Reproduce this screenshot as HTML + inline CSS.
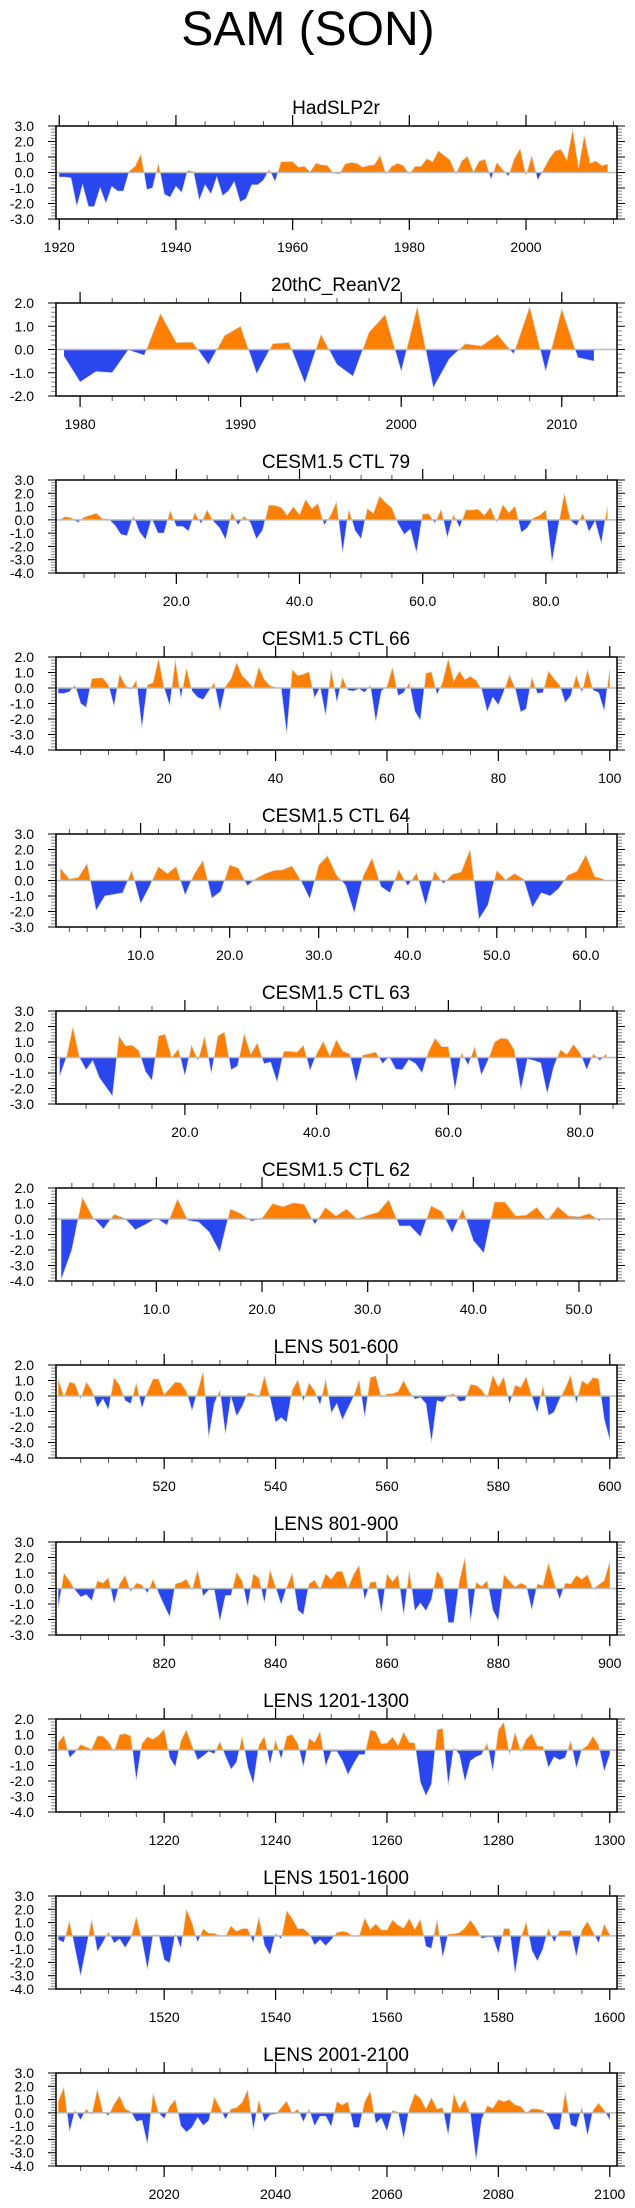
<!DOCTYPE html>
<html><head><meta charset="utf-8"><style>
html,body{margin:0;padding:0;background:#fff;}
svg{display:block;font-family:"Liberation Sans",Arial,sans-serif;}
</style></head><body>
<svg id="chart" width="635" height="2208" viewBox="0 0 635 2208" xmlns="http://www.w3.org/2000/svg">
<text x="308" y="45" font-size="48" text-anchor="middle" fill="#000">SAM (SON)</text>
</svg>
<script>
// ---------- data ----------
const titles = ["HadSLP2r","20thC_ReanV2","CESM1.5 CTL 79","CESM1.5 CTL 66","CESM1.5 CTL 64","CESM1.5 CTL 63","CESM1.5 CTL 62","LENS 501-600","LENS 801-900","LENS 1201-1300","LENS 1501-1600","LENS 2001-2100"];
const starts = [1920,1979,1,1,1,1,1,501,801,1201,1501,2001];
const hadslpValues = [-0.3,-0.3,-0.35,-2.2,-0.8,-2.2,-2.2,-1.0,-2.0,-0.9,-1.2,-1.2,0.1,0.4,1.2,-1.1,-1.0,0.6,-1.4,-1.6,-0.9,-1.3,0.15,0.05,-1.8,-0.8,-1.4,-0.3,-1.5,-1.2,-0.6,-1.9,-1.7,-0.8,-0.8,-0.5,0.2,-0.6,0.7,0.7,0.7,0.35,0.4,0.05,0.6,0.5,0.45,-0.05,-0.1,0.55,0.65,0.6,0.35,0.45,0.5,1.1,-0.1,0.4,0.6,0.45,-0.1,0.4,0.4,0.9,0.7,1.4,1.1,0.8,-0.1,0.75,1.05,0.05,0.75,0.85,-0.45,0.65,0.2,-0.25,0.9,1.55,-0.2,1.1,-0.5,0.2,0.9,1.4,1.5,0.8,2.8,0.3,2.4,0.6,0.75,0.45,0.55];
const reanValues = [-0.3,-1.4,-0.95,-1.0,-0.02,-0.25,1.55,0.3,0.32,-0.65,0.6,1.0,-1.05,0.25,0.3,-1.45,0.65,-0.65,-1.15,0.75,1.5,-0.95,1.85,-1.65,-0.4,0.25,0.15,0.65,-0.2,1.85,-0.95,1.75,-0.35,-0.5];
const ctl79Values = [0.0,0.25,0.15,-0.2,0.2,0.35,0.5,0.1,0.05,-0.4,-1.1,-1.2,0.3,-0.9,-1.5,0.1,-1.0,-1.0,0.7,-0.5,-0.5,-0.85,0.55,-0.3,0.75,-0.1,-0.6,-1.5,0.6,-0.4,0.3,-0.2,-1.45,-0.8,1.1,1.1,0.95,0.35,1.0,0.4,1.55,0.85,1.25,-0.4,0.3,1.35,-2.5,0.8,-0.8,-1.45,0.85,0.5,1.8,1.3,0.9,-0.3,-1.1,-0.7,-2.5,0.45,0.45,-0.25,0.8,-1.35,0.4,-0.6,0.75,0.75,0.8,0.35,0.95,-0.2,1.15,0.55,1.05,-0.95,-0.6,0.15,0.35,0.75,-3.2,-0.5,2.0,-0.05,-0.45,0.5,-0.9,-0.1,-1.8,1.05];
const ctl66Values = [-0.35,-0.35,-0.25,0.2,-1.0,-1.25,0.6,0.65,0.65,0.2,-1.2,0.9,0.2,-0.1,0.5,-2.6,0.2,0.35,1.9,0.0,-1.15,1.85,-0.7,1.3,-0.2,-0.6,-0.75,-0.2,0.35,-1.5,0.1,0.6,1.65,0.8,0.45,0.0,1.35,0.55,0.15,0.05,0.0,-3.0,1.2,0.8,0.9,1.05,-0.65,0.05,-1.8,1.2,-0.95,0.7,-0.15,-0.2,-0.05,-0.3,0.2,-2.2,-0.2,0.1,1.35,-0.5,-0.3,0.35,-1.5,-2.1,0.95,1.05,-0.45,0.4,1.9,0.45,1.1,0.55,0.75,0.5,-0.1,-1.55,-0.6,-1.1,-0.2,0.85,0.0,-1.55,-1.35,0.7,-0.35,-0.3,1.1,0.6,0.2,-0.95,-0.5,0.85,-0.3,1.2,-0.15,-0.3,-1.5,1.25];
const ctl64Values = [0.8,0.1,0.2,1.1,-1.95,-1.0,-0.9,-0.8,0.65,-1.5,-0.4,0.9,0.45,0.9,-0.95,0.4,1.3,-1.15,-0.7,1.0,0.8,-0.35,0.15,0.45,0.65,0.7,0.95,0.0,-1.2,1.0,1.6,0.35,-0.3,-2.1,0.3,1.45,-0.4,-0.8,0.7,-0.35,0.5,-1.6,0.6,-0.2,0.4,0.55,2.0,-2.5,-1.6,0.65,0.05,0.45,0.1,-1.75,-0.8,-1.0,-0.5,0.35,0.6,1.65,0.25,0.1];
const ctl63Values = [-1.2,0.0,2.0,0.0,-0.8,-0.2,-1.3,-1.9,-2.5,1.4,0.75,0.8,0.45,-0.9,-1.5,1.4,1.5,0.0,0.55,-1.2,0.8,-0.2,1.4,-1.05,1.4,1.65,-0.8,-0.55,1.55,0.2,0.95,-0.4,-0.3,-1.6,0.4,0.4,0.35,0.8,-0.85,0.25,1.05,0.1,1.15,0.4,0.25,-1.6,0.15,0.25,0.35,-0.4,0.05,-0.75,-0.8,-0.15,-0.4,-1.0,0.4,1.25,0.7,0.7,-2.1,0.3,-0.5,0.7,-1.15,-0.2,1.0,1.25,1.2,0.5,-2.1,-0.1,-0.2,-0.35,-2.35,-0.6,0.5,0.2,0.85,0.3,-0.8,0.25,-0.2,0.25];
const ctl62Values = [-3.9,-2.0,1.4,0.1,-0.65,0.3,0.05,-0.7,-0.35,0.05,-0.4,1.3,-0.1,-0.2,-0.85,-2.15,0.65,0.35,-0.15,0.05,1.0,0.8,1.05,0.95,-0.35,0.75,0.2,0.65,0.0,0.25,0.45,1.25,-0.45,-0.45,-1.15,0.85,0.5,-0.9,0.65,-1.4,-2.2,1.1,1.1,0.2,0.25,0.75,-0.1,0.8,0.2,0.15,0.35,-0.15];
const lens501Values = [1.1,-0.05,0.9,0.8,-0.2,0.9,0.4,-0.75,-0.2,-0.9,1.2,0.7,-0.3,-0.5,0.85,-0.8,0.3,1.1,1.1,0.1,0.5,0.9,0.85,0.3,-0.95,0.3,1.6,-2.7,-0.5,0.4,-2.5,-0.05,-1.3,-0.7,0.2,0.15,-0.1,1.3,-0.1,-1.7,-1.4,-1.7,0.4,1.05,-0.35,0.85,0.35,-0.6,1.1,-1.1,-0.5,-1.55,-0.8,-0.05,1.05,-1.4,1.2,1.3,-0.1,0.15,0.15,0.3,1.0,0.3,-0.2,-0.1,-0.5,-3.0,-0.3,-0.4,0.05,0.15,-0.35,-0.3,0.75,0.7,0.4,-0.1,1.35,0.6,1.25,-0.55,0.7,0.55,1.25,0.0,-1.1,0.7,-1.25,-1.05,-0.2,0.5,1.35,-0.5,1.0,0.75,1.2,1.1,-1.5,-2.85];
const lens801Values = [-1.25,1.0,0.5,-0.1,-0.55,-0.4,-0.8,0.5,0.35,0.7,-1.0,0.3,0.85,-0.2,0.35,0.25,-0.3,0.6,-0.3,-1.1,-1.85,0.3,0.4,0.6,-0.1,1.2,-0.5,-0.1,-0.1,-2.15,-0.45,-0.45,1.05,0.5,-1.2,0.95,0.7,-0.95,1.2,0.1,-1.05,0.1,1.0,-1.4,-1.7,0.3,0.55,-0.05,0.95,0.6,1.1,1.1,0.05,0.9,1.5,-0.75,0.4,0.45,-1.6,0.95,0.45,0.9,-1.75,1.2,-1.45,-0.95,-1.45,-0.7,1.15,0.6,-2.2,-2.2,0.5,2.0,-2.2,0.4,0.15,0.5,-1.4,-2.1,0.9,0.5,0.1,0.35,0.2,-1.4,0.3,0.2,1.65,0.4,-0.7,0.35,0.3,0.85,0.6,0.9,-0.05,0.25,0.5,1.75];
const lens1201Values = [0.5,0.95,-0.5,-0.15,0.35,0.2,0.05,0.9,0.9,0.55,-0.1,1.0,1.05,0.9,-2.0,0.4,0.85,0.7,0.95,1.35,-0.5,-1.1,0.6,1.3,0.3,-0.65,-0.4,-0.1,-0.25,0.55,-0.4,-1.25,-0.8,0.9,-1.1,-2.2,0.3,0.9,-0.95,0.65,-0.6,0.9,1.0,0.4,-1.1,0.75,0.5,1.2,-1.05,-0.1,-0.1,-0.7,-1.6,-0.9,-0.3,-0.3,1.3,1.2,0.4,0.45,0.85,0.3,1.15,0.5,0.45,-2.1,-2.95,-2.2,1.3,1.4,-2.3,0.15,-0.3,-2.05,-0.7,-0.45,-0.3,0.45,-1.4,1.3,1.8,-0.3,1.15,-0.1,0.7,1.05,0.25,0.25,-1.15,-0.45,-0.65,-0.5,0.6,-1.2,0.05,0.3,0.9,0.3,-1.4,-0.3];
const lens1501Values = [-0.3,-0.5,1.15,-1.0,-3.05,-0.9,1.25,-1.2,-0.5,0.3,-0.55,-0.25,-0.9,-0.2,1.45,-0.3,-2.55,0.05,0.1,-1.8,-2.05,0.2,-0.95,2.0,1.0,-0.5,0.55,0.2,0.2,0.0,-0.05,0.75,0.35,0.55,0.55,-0.55,1.45,-0.7,-1.45,0.2,-0.25,1.9,1.3,0.55,0.55,0.2,-0.7,-0.3,-0.75,-0.3,0.25,0.35,0.25,-0.05,-0.05,1.35,0.5,0.9,0.45,0.45,1.2,0.8,0.6,1.3,0.5,1.25,-0.8,-0.95,1.25,-1.65,0.15,0.15,0.25,0.6,1.2,0.6,-0.2,-0.1,-0.1,-1.35,0.55,0.55,-2.9,-0.2,1.05,-1.1,-1.9,-1.0,0.6,-0.5,0.4,0.4,0.4,-1.6,0.45,1.1,0.3,-0.55,0.9,0.1];
const lens2001Values = [0.9,1.95,-1.45,0.2,-0.55,0.3,-0.15,1.8,0.05,-0.2,0.65,1.3,0.3,0.1,-0.65,-0.55,-2.4,1.5,0.0,-0.45,0.5,1.0,-1.0,-1.45,-1.1,-0.35,-0.95,-0.6,1.2,0.4,-0.5,0.3,0.4,0.8,1.75,-1.3,1.0,-0.7,-0.15,-0.1,0.4,0.9,-0.05,0.3,-0.7,0.3,-1.0,-0.25,-0.25,-1.05,0.85,0.6,0.85,-1.1,-1.1,0.85,1.65,-0.8,-0.4,-1.4,0.2,0.05,-1.95,0.3,1.45,1.1,0.3,1.15,0.3,0.4,-1.7,1.45,0.35,1.0,-0.15,-3.6,-0.5,0.55,0.35,1.0,0.85,1.0,0.6,0.5,0.0,0.3,0.3,0.2,-0.3,-1.25,-1.25,1.6,-0.9,-1.1,0.45,-1.75,0.2,0.75,0.2,-0.55];
const yMaxes = [3,2,3,2,3,3,2,2,3,2,3,3];
const yMins = [-3,-2,-4,-4,-3,-3,-4,-4,-3,-4,-4,-4];
const majorTicks = [
  [1920,1940,1960,1980,2000],[1980,1990,2000,2010],[20,40,60,80],[20,40,60,80,100],
  [10,20,30,40,50,60],[20,40,60,80],[10,20,30,40,50],[520,540,560,580,600],
  [820,840,860,880,900],[1220,1240,1260,1280,1300],[1520,1540,1560,1580,1600],[2020,2040,2060,2080,2100]];
const tickLabels = [
  ["1920","1940","1960","1980","2000"],["1980","1990","2000","2010"],["20.0","40.0","60.0","80.0"],["20","40","60","80","100"],
  ["10.0","20.0","30.0","40.0","50.0","60.0"],["20.0","40.0","60.0","80.0"],["10.0","20.0","30.0","40.0","50.0"],["520","540","560","580","600"],
  ["820","840","860","880","900"],["1220","1240","1260","1280","1300"],["1520","1540","1560","1580","1600"],["2020","2040","2060","2080","2100"]];
const allValues = [hadslpValues,reanValues,ctl79Values,ctl66Values,ctl64Values,ctl63Values,ctl62Values,lens501Values,lens801Values,lens1201Values,lens1501Values,lens2001Values];

// ---------- layout (not data) ----------
const xMins = [1919.44,1978.5,0.46,0.58,0.5,0.43,0.5,500.58,800.58,1200.58,1500.58,2000.58];
const xMaxes = [2015.6,2013.44,91.55,101.3,63.5,85.6,53.6,601.3,901.3,1301.3,1601.3,2101.3];
const minorSteps = [5,2,5,5,2,5,2,5,5,5,5,5];
const NS = "http://www.w3.org/2000/svg";
const svg = document.getElementById("chart");
const L = 56, R = 617, H = 93;
function mk(tag, attrs, parent){ const e=document.createElementNS(NS,tag); for(const k in attrs) e.setAttribute(k,attrs[k]); parent.appendChild(e); return e; }

for (let k=0;k<12;k++){
  const top = 126 + 177*k, bottom = top + H;
  const xmin=xMins[k], xmax=xMaxes[k], ymax=yMaxes[k], ymin=yMins[k];
  const sx = v => L + (v-xmin)/(xmax-xmin)*(R-L);
  const sy = v => top + (ymax-v)/(ymax-ymin)*H;
  const g = mk("g",{},svg);
  
  

  const t = mk("text",{x:336,y:top-12,"font-size":19,"text-anchor":"middle",fill:"#000"},g);
  t.textContent = titles[k];
  
  

  // clip paths
  const y0 = sy(0);
  const defs = mk("defs",{},g);
  const cA = mk("clipPath",{id:"ca"+k},defs); mk("rect",{x:L,y:top,width:R-L,height:y0-top},cA);
  const cB = mk("clipPath",{id:"cb"+k},defs); mk("rect",{x:L,y:y0,width:R-L,height:bottom-y0},cB);

  const vals = allValues[k];
  const pts = vals.map((v,i)=>[sx(starts[k]+i), sy(v)]);
  let d = "M"+pts[0][0].toFixed(2)+","+y0.toFixed(2);
  pts.forEach(p=>{ d += " L"+p[0].toFixed(2)+","+p[1].toFixed(2); });
  d += " L"+pts[pts.length-1][0].toFixed(2)+","+y0.toFixed(2)+" Z";
  const above = mk("path",{d:d,fill:"#ff8000","clip-path":"url(#ca"+k+")"},g);
  
  
  const below = mk("path",{d:d,fill:"#2a46ee","clip-path":"url(#cb"+k+")"},g);
  
  
  const line = mk("polyline",{points:pts.map(p=>p[0].toFixed(2)+","+p[1].toFixed(2)).join(" "),fill:"none",stroke:"#d8d8d8","stroke-width":0.7},g);
  
  

  const zl = mk("line",{x1:L,x2:R,y1:y0,y2:y0,stroke:"#bbbbbb","stroke-width":1.5},g);
  
  

  // y ticks
  for (let v=ymax; v>=ymin-1e-9; v-=1){
    const y=sy(v);
    mk("line",{x1:L-8,x2:L,y1:y,y2:y,stroke:"#000","stroke-width":1},g);
    mk("line",{x1:R,x2:R+8,y1:y,y2:y,stroke:"#000","stroke-width":1},g);
    const lab = mk("text",{x:34,y:y+5,"font-size":14,"text-anchor":"end",fill:"#000"},g);
    lab.textContent = v.toFixed(1);
    
    
    if (v>ymin){
      for (let m=1;m<5;m++){
        const ym = sy(v-m*0.2);
        mk("line",{x1:L-5,x2:L,y1:ym,y2:ym,stroke:"#888","stroke-width":1},g);
        mk("line",{x1:R,x2:R+5,y1:ym,y2:ym,stroke:"#888","stroke-width":1},g);
      }
    }
  }
  // x minor ticks
  const step = minorSteps[k];
  for (let v=Math.ceil(xmin/step)*step; v<=xmax; v+=step){
    const x=sx(v);
    mk("line",{x1:x,x2:x,y1:bottom,y2:bottom+5,stroke:"#555","stroke-width":1},g);
    mk("line",{x1:x,x2:x,y1:top-5,y2:top,stroke:"#555","stroke-width":1},g);
  }
  majorTicks[k].forEach((v,i)=>{
    const x=sx(v);
    mk("line",{x1:x,x2:x,y1:bottom,y2:bottom+11,stroke:"#000","stroke-width":1.2},g);
    mk("line",{x1:x,x2:x,y1:top-11,y2:top,stroke:"#000","stroke-width":1.2},g);
    const lab = mk("text",{x:x,y:bottom+33,"font-size":14,"text-anchor":"middle",fill:"#000"},g);
    lab.textContent = tickLabels[k][i];
    
    
  });
  const box = mk("rect",{x:L,y:top,width:R-L,height:H,fill:"none",stroke:"#000","stroke-width":1.5},g);
  
  
}
</script>
</body></html>
